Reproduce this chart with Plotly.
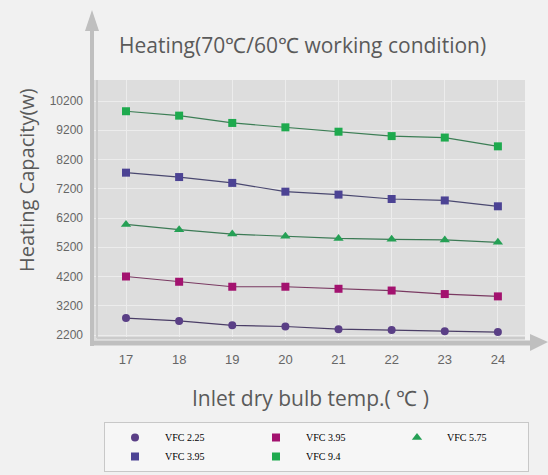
import plotly.graph_objects as go

temps = [17, 18, 19, 20, 21, 22, 23, 24]
y_ticks = [2200, 3200, 4200, 5200, 6200, 7200, 8200, 9200, 10200]
y_tick_text = [str(v) for v in y_ticks]

vfc_2_25 = [2780, 2680, 2530, 2490, 2400, 2370, 2330, 2300]
vfc_3_95_a = [4200, 4020, 3850, 3850, 3780, 3720, 3600, 3520]
vfc_5_75 = [5980, 5800, 5650, 5580, 5500, 5470, 5450, 5370]
vfc_3_95_b = [7750, 7600, 7400, 7100, 7000, 6850, 6800, 6600]
vfc_9_4 = [9850, 9700, 9450, 9300, 9150, 9000, 8950, 8650]

series = [
    ("VFC 2.25", vfc_2_25, "circle", "#5a3f86", "#4a3d66", 8),
    ("VFC 3.95", vfc_3_95_a, "square", "#a3126f", "#7a3a62", 8),
    ("VFC 5.75", vfc_5_75, "triangle-up", "#25a055", "#3c7a55", 9),
    ("VFC 3.95", vfc_3_95_b, "square", "#4c4394", "#4a4870", 8),
    ("VFC 9.4", vfc_9_4, "square", "#1eaa4e", "#3c7e55", 8),
]

fig = go.Figure()
for name, vals, sym, mc, lc, ms in series:
    fig.add_trace(go.Scatter(
        x=temps, y=vals, mode="lines+markers", name=name, showlegend=False,
        line=dict(color=lc, width=1.2),
        marker=dict(symbol=sym, size=ms, color=mc),
    ))
for name, vals, sym, mc, lc, ms in series:
    fig.add_trace(go.Scatter(
        x=[None], y=[None], mode="markers", name=name, showlegend=True,
        marker=dict(symbol=sym, size=ms, color=mc),
    ))

# pixel -> paper helpers (plot area: x 92..525, y 80..340)
L, R, T, B = 92, 525, 80, 340
def px(x):
    return (x - L) / (R - L)
def py(y):
    return (B - y) / (B - T)

arrow_col = "#bfbfbf"
shapes = [
    dict(type="line", xref="paper", yref="paper", x0=px(97), x1=px(97), y0=py(80), y1=py(338),
         line=dict(color="#cbcbcb", width=2)),
    dict(type="line", xref="paper", yref="paper", x0=px(97), x1=px(525), y0=py(338), y1=py(338),
         line=dict(color="#cbcbcb", width=2)),
    dict(type="line", xref="paper", yref="paper", x0=px(92), x1=px(92), y0=py(346), y1=py(28),
         line=dict(color=arrow_col, width=4)),
    dict(type="path", xref="paper", yref="paper",
         path=f"M {px(92)} {py(10)} L {px(85)} {py(31)} L {px(99)} {py(31)} Z",
         fillcolor=arrow_col, line=dict(width=0)),
    dict(type="line", xref="paper", yref="paper", x0=px(90), x1=px(532), y0=py(343), y1=py(343),
         line=dict(color=arrow_col, width=5)),
    dict(type="path", xref="paper", yref="paper",
         path=f"M {px(548)} {py(342)} L {px(530)} {py(334)} L {px(530)} {py(351)} Z",
         fillcolor=arrow_col, line=dict(width=0)),
]

annotations = [
    dict(text="Heating(70℃/60℃ working condition)", xref="paper", yref="paper",
         x=px(302), y=py(45), showarrow=False, xanchor="center", yanchor="middle",
         font=dict(family="Open Sans", size=21, color="#5a5a5a")),
    dict(text="Heating Capacity(w)", xref="paper", yref="paper", textangle=-90,
         x=px(26), y=py(180), showarrow=False, xanchor="center", yanchor="middle",
         font=dict(family="Open Sans", size=20, color="#5a5a5a")),
    dict(text="Inlet dry bulb temp.( ℃ )", xref="paper", yref="paper",
         x=px(310), y=py(398), showarrow=False, xanchor="center", yanchor="middle",
         font=dict(family="Open Sans", size=21, color="#5a5a5a")),
]

fig.update_layout(
    width=548, height=475,
    margin=dict(l=L, r=548 - R, t=T, b=475 - B, autoexpand=False),
    paper_bgcolor="#f1f1f1",
    plot_bgcolor="#dddddd",
    shapes=shapes,
    annotations=annotations,
    xaxis=dict(range=[16.36, 24.51], tickvals=temps, showgrid=True, gridcolor="#ececec",
               gridwidth=1, zeroline=False, showline=False, ticks="",
               tickfont=dict(family="Liberation Sans", size=13, color="#666666"),
               ticklabelstandoff=10),
    yaxis=dict(range=[2029, 10918], tickvals=y_ticks, ticktext=y_tick_text, showgrid=True,
               gridcolor="#ececec", gridwidth=1, zeroline=False, showline=False, ticks="",
               tickfont=dict(family="Liberation Sans", size=12, color="#666666"),
               ticklabelstandoff=8),
    legend=dict(orientation="h", x=px(104), y=py(422), xanchor="left", yanchor="top",
                bgcolor="#f6f6f6", bordercolor="#c8c8c8", borderwidth=1,
                font=dict(family="Liberation Serif", size=10, color="#000000"),
                entrywidth=76, entrywidthmode="pixels", itemwidth=50,
                tracegroupgap=0),
)

fig.write_html("out.html", config={"displayModeBar": False},
               post_script="document.body.style.margin='0';document.body.style.background='#f1f1f1';")
